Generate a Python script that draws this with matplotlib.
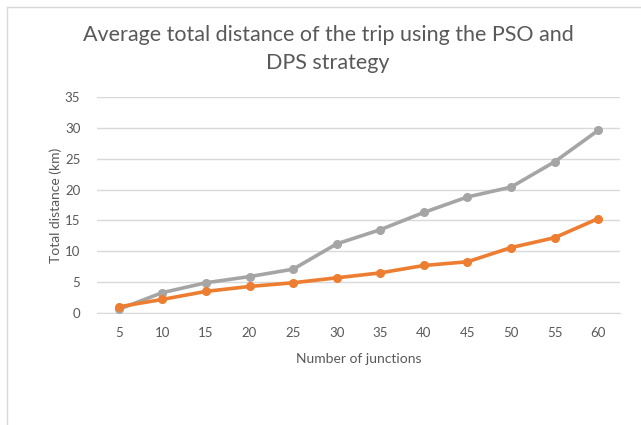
import matplotlib.pyplot as plt
from matplotlib.lines import Line2D

plt.rcParams['font.family'] = ['Lato', 'DejaVu Sans']

# data
junctions = [5, 10, 15, 20, 25, 30, 35, 40, 45, 50, 55, 60]
pso = [0.6, 3.3, 4.9, 5.9, 7.1, 11.2, 13.5, 16.3, 18.8, 20.4, 24.5, 29.6]
dps = [1.0, 2.2, 3.5, 4.3, 4.9, 5.7, 6.5, 7.7, 8.3, 10.6, 12.2, 15.3]

text_col = '#595959'
grid_col = '#d9d9d9'

fig = plt.figure(figsize=(6.41, 4.25), dpi=100)
ax = fig.add_axes([97/641, 1 - 313/425, (620 - 97)/641, (313 - 97)/425])

x = list(range(len(junctions)))
ax.plot(x, pso, color='#a5a5a5', lw=2.6, marker='o', ms=5.5, zorder=3)
ax.plot(x, dps, color='#ed7d31', lw=2.6, marker='o', ms=5.5, zorder=4)

ax.set_xlim(-0.5, len(junctions) - 0.5)
ax.set_ylim(0, 35)
ax.set_yticks(range(0, 36, 5))
ax.set_xticks(x)
ax.set_xticklabels([str(j) for j in junctions])
ax.grid(axis='y', color=grid_col, lw=1)
ax.set_axisbelow(True)
for s in ['top', 'right', 'left']:
    ax.spines[s].set_visible(False)
ax.spines['bottom'].set_color(grid_col)
ax.tick_params(length=0, colors=text_col, labelsize=9.5, pad=10)
ax.tick_params(axis='y', pad=12)

ax.set_xlabel('Number of junctions', color=text_col, fontsize=10, labelpad=10)
ax.set_ylabel('Total distance (km)', color=text_col, fontsize=10, labelpad=2)

fig.text(328/641, 1 - 49/425, 'Average total distance of the trip using the PSO and\nDPS strategy',
         ha='center', va='center', fontsize=15.5, color=text_col, linespacing=1.45)

# partial chart frame
fig.add_artist(Line2D([7/641, 7/641], [0, 1 - 7/425], color=grid_col, lw=1))
fig.add_artist(Line2D([7/641, 1], [1 - 7/425, 1 - 7/425], color=grid_col, lw=1))

fig.savefig('out.png', dpi=100)
